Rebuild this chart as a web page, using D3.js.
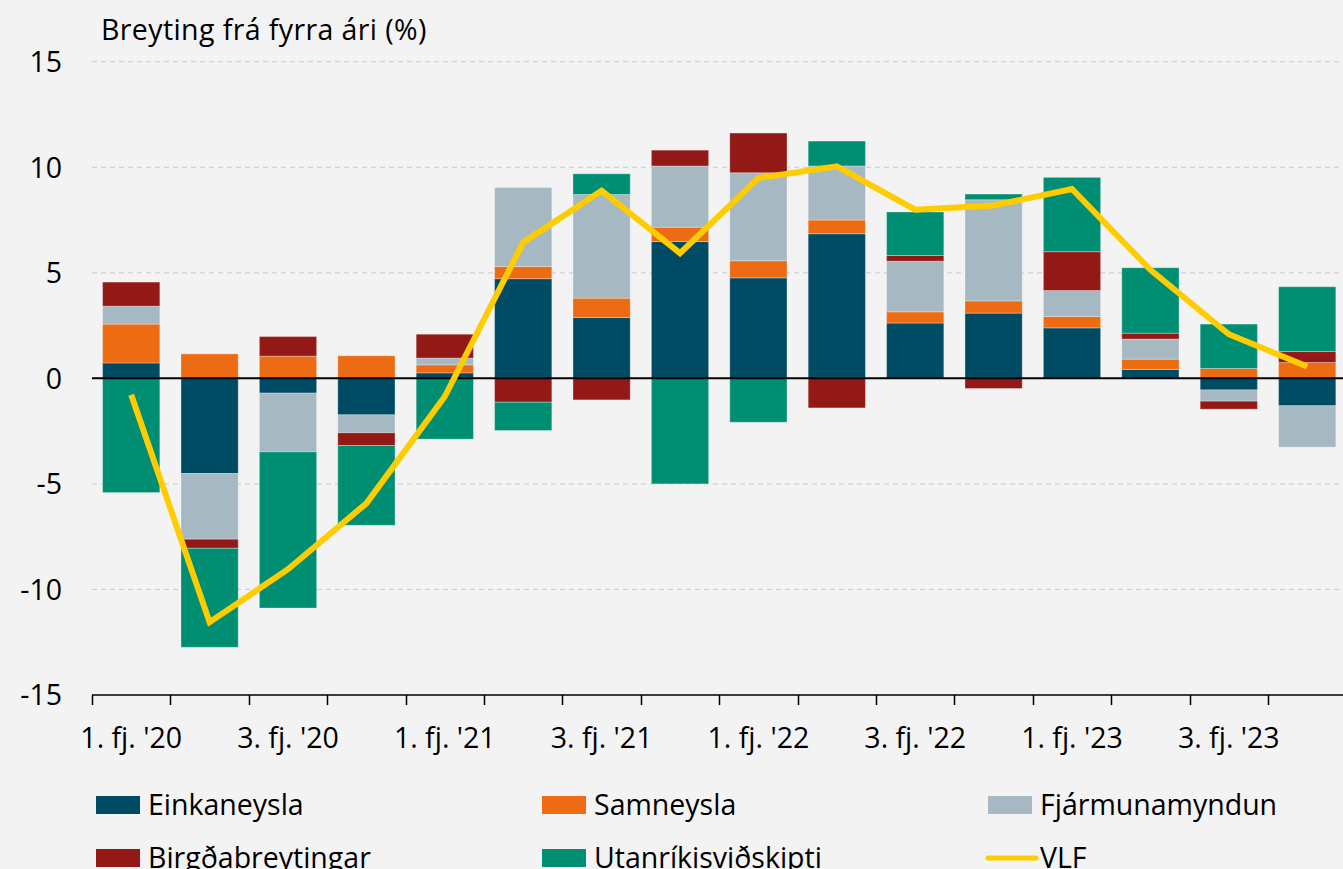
<!DOCTYPE html>
<html>
<head>
<meta charset="utf-8">
<script src="https://cdn.jsdelivr.net/npm/d3@7"></script>
<style>
  body { margin: 0; background: #f3f3f3; }
  svg { display: block; font-family: "Open Sans", Lato, sans-serif; }
</style>
</head>
<body>
<svg id="chart"></svg>
<script>
// quarters, 1. fj. '20 .. 4. fj. '23
var quarters = ["1. fj. '20", "2. fj. '20", "3. fj. '20", "4. fj. '20",
                "1. fj. '21", "2. fj. '21", "3. fj. '21", "4. fj. '21",
                "1. fj. '22", "2. fj. '22", "3. fj. '22", "4. fj. '22",
                "1. fj. '23", "2. fj. '23", "3. fj. '23", "4. fj. '23"];

var seriesNames = ["Einkaneysla", "Samneysla", "Fjármunamyndun", "Birgðabreytingar", "Utanríkisviðskipti"];
var lineName = "VLF";

var einkaneysla      = [0.73, -4.51, -0.70, -1.73, 0.26, 4.72, 2.88, 6.48, 4.76, 6.85, 2.62, 3.09, 2.39, 0.42, -0.55, -1.30];
var samneysla        = [1.84, 1.16, 1.05, 1.07, 0.38, 0.58, 0.92, 0.68, 0.81, 0.65, 0.53, 0.58, 0.54, 0.49, 0.47, 0.75];
var fjarmunamyndun   = [0.85, -3.11, -2.78, -0.85, 0.32, 3.74, 4.91, 2.90, 4.17, 2.56, 2.40, 4.79, 1.23, 0.95, -0.53, -1.96];
var birgdabreytingar = [1.14, -0.43, 0.93, -0.60, 1.13, -1.13, -1.02, 0.75, 1.88, -1.40, 0.27, -0.48, 1.84, 0.28, -0.38, 0.52];
var utanrikis        = [-5.41, -4.69, -7.40, -3.78, -2.88, -1.34, 0.98, -5.00, -2.08, 1.18, 2.06, 0.27, 3.52, 3.10, 2.10, 3.07];
var vlf              = [-0.78, -11.55, -9.04, -5.92, -0.86, 6.44, 8.89, 5.93, 9.49, 10.04, 7.99, 8.19, 8.97, 5.14, 2.09, 0.56];

var yTicks = [-15, -10, -5, 0, 5, 10, 15];

var colors = ["#004b64", "#ec6b13", "#a6b8c2", "#931917", "#008e72"];
var lineColor = "#ffcc00";

// set the dimensions
var width = 1343, height = 869;
var plotLeft = 92, plotRight = 1346.4, plotTop = 61.7, plotBottom = 695;
var fontSize = 28.5;

var svg = d3.select("#chart")
    .attr("width", width)
    .attr("height", height);

svg.append("rect")
    .attr("width", width)
    .attr("height", height)
    .attr("fill", "#f3f3f3");

// table for the stack
var allSeries = [einkaneysla, samneysla, fjarmunamyndun, birgdabreytingar, utanrikis];
var table = quarters.map(function (q, i) {
    var row = { quarter: q };
    seriesNames.forEach(function (name, j) { row[name] = allSeries[j][i]; });
    return row;
});

var stacked = d3.stack()
    .keys(seriesNames)
    .offset(d3.stackOffsetDiverging)(table);

var xScale = d3.scaleBand()
    .domain(quarters)
    .range([plotLeft, plotRight])
    .paddingInner(0.27)
    .paddingOuter(0.135);

var yScale = d3.scaleLinear()
    .domain([-15, 15])
    .range([plotBottom, plotTop]);

// dashed gridlines
svg.append("g")
    .selectAll("line")
    .data(yTicks.filter(function (t) { return t !== 0 && t !== -15; }))
    .enter()
    .append("line")
    .attr("x1", plotLeft)
    .attr("x2", width)
    .attr("y1", function (d) { return yScale(d); })
    .attr("y2", function (d) { return yScale(d); })
    .attr("stroke", "#c9c9c9")
    .attr("stroke-width", 1)
    .attr("stroke-dasharray", "5,4");

// y labels
svg.append("g")
    .selectAll("text")
    .data(yTicks)
    .enter()
    .append("text")
    .attr("x", 62)
    .attr("y", function (d) { return yScale(d); })
    .attr("dy", "0.36em")
    .attr("text-anchor", "end")
    .attr("font-size", fontSize)
    .attr("fill", "#000")
    .text(function (d) { return d; });

// title
svg.append("text")
    .attr("x", 101)
    .attr("y", 40)
    .attr("font-size", fontSize)
    .attr("letter-spacing", 0.4)
    .attr("fill", "#000")
    .text("Breyting frá fyrra ári (%)");

// bars
var layers = svg.append("g")
    .selectAll("g")
    .data(stacked)
    .enter()
    .append("g")
    .attr("fill", function (d, i) { return colors[i]; });

layers.selectAll("rect")
    .data(function (d) { return d; })
    .enter()
    .append("rect")
    .attr("x", function (d) { return xScale(d.data.quarter); })
    .attr("width", xScale.bandwidth())
    .attr("y", function (d) { return yScale(d[1]); })
    .attr("height", function (d) { return yScale(d[0]) - yScale(d[1]); })
    .attr("stroke", "#fff")
    .attr("stroke-opacity", 0.3)
    .attr("stroke-width", 1);

// zero line
svg.append("line")
    .attr("x1", plotLeft)
    .attr("x2", width)
    .attr("y1", yScale(0))
    .attr("y2", yScale(0))
    .attr("stroke", "#000")
    .attr("stroke-width", 2);

// bottom axis
var xAxis = svg.append("g")
    .attr("transform", "translate(0," + plotBottom + ")");

xAxis.append("line")
    .attr("x1", plotLeft)
    .attr("x2", width)
    .attr("stroke", "#000")
    .attr("stroke-width", 1.5);

xAxis.selectAll(".tick")
    .data(quarters)
    .enter()
    .append("line")
    .attr("x1", function (d) { return Math.round(xScale(d) - xScale.step() * 0.135) + 0.5; })
    .attr("x2", function (d) { return Math.round(xScale(d) - xScale.step() * 0.135) + 0.5; })
    .attr("y1", 0)
    .attr("y2", 10)
    .attr("stroke", "#000")
    .attr("stroke-width", 1.5);

xAxis.selectAll("text")
    .data(quarters.filter(function (d, i) { return i % 2 === 0; }))
    .enter()
    .append("text")
    .attr("x", function (d) { return xScale(d) + xScale.bandwidth() / 2; })
    .attr("y", 53)
    .attr("text-anchor", "middle")
    .attr("font-size", fontSize)
    .attr("fill", "#000")
    .text(function (d) { return d; });

// VLF line
var line = d3.line()
    .x(function (d, i) { return xScale(quarters[i]) + xScale.bandwidth() / 2; })
    .y(function (d) { return yScale(d); });

svg.append("path")
    .datum(vlf)
    .attr("d", line)
    .attr("fill", "none")
    .attr("stroke", lineColor)
    .attr("stroke-width", 6)
    .attr("stroke-linejoin", "miter");

// legend
var legendItems = seriesNames.concat([lineName]);
var legend = svg.append("g")
    .selectAll("g")
    .data(legendItems)
    .enter()
    .append("g")
    .attr("transform", function (d, i) {
        return "translate(" + (96 + (i % 3) * 446) + "," + (796 + Math.floor(i / 3) * 53) + ")";
    });

legend.each(function (d, i) {
    var g = d3.select(this);
    if (i < 5) {
        g.append("rect")
            .attr("width", 44)
            .attr("height", 18)
            .attr("fill", colors[i]);
    } else {
        g.append("line")
            .attr("x1", 0)
            .attr("x2", 48)
            .attr("y1", 9)
            .attr("y2", 9)
            .attr("stroke", lineColor)
            .attr("stroke-width", 5)
            .attr("stroke-linecap", "round");
    }
    g.append("text")
        .attr("x", 52)
        .attr("y", 19)
        .attr("font-size", fontSize)
        .attr("fill", "#000")
        .text(d);
});
</script>
</body>
</html>
